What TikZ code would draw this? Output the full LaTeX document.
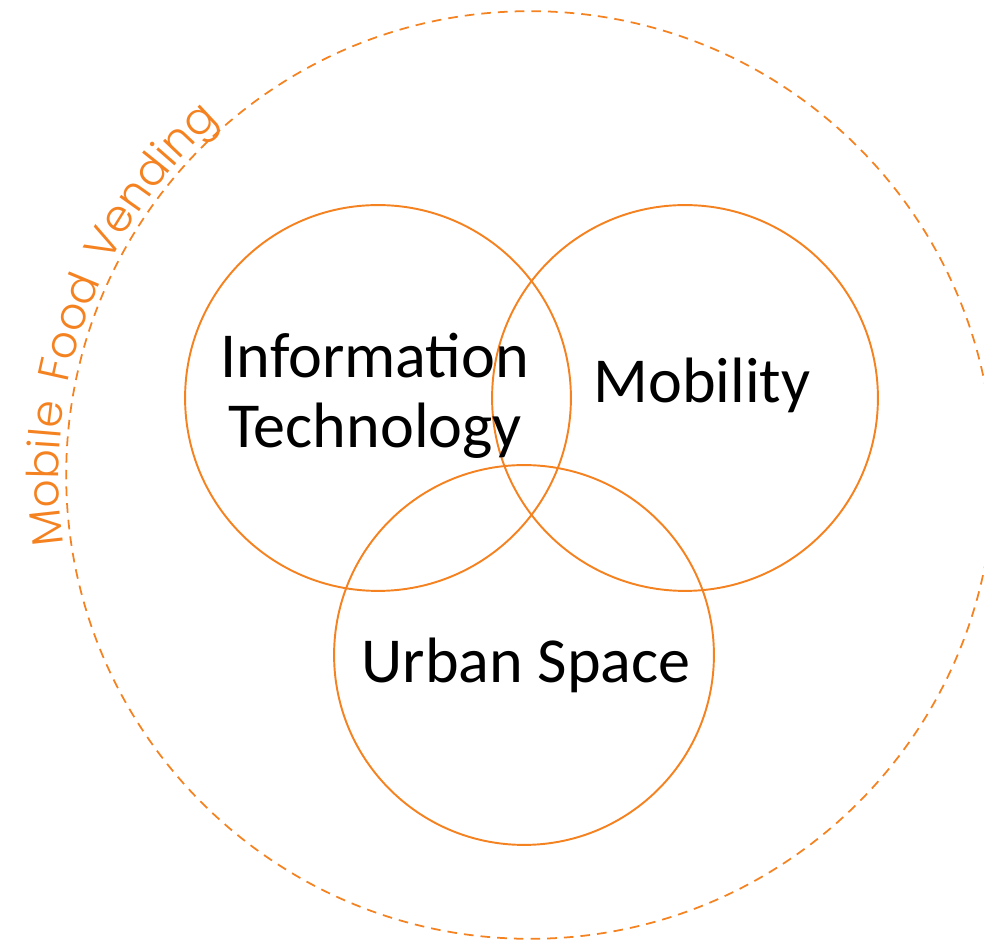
\documentclass[tikz,border=0pt]{standalone}
\usepackage{fontspec}
\setmainfont{Carlito}
\newfontfamily\vendfont{Poppins Light}
\usetikzlibrary{decorations.text}
\definecolor{vendorange}{RGB}{245,130,32}

\begin{document}
\begin{tikzpicture}[x=0.02cm,y=0.02cm,
        ring/.style={draw=vendorange,line width=1.1pt,circle,inner sep=0pt,minimum size=#1*0.04cm},
        areatext/.style={font=\fontsize{36.5}{40}\selectfont,align=center}]
        \useasboundingbox (0,0) rectangle (984,946);
        % outer dashed field
        \node[ring=464,line width=1pt,dash pattern=on 5.5pt off 4pt] (vending) at (530,471) {};
        \path[decorate,decoration={text along path,text align=left,
            text={|\vendfont\fontsize{25}{25}\selectfont\color{vendorange}|Mobile{\kern.45em}Food{\kern.45em}Vending}}]
            (530,471) ++(188.5:471) arc[start angle=188.5,end angle=100,radius=471];
        % the three areas
        \node[ring=193] (info) at (378,548) {};
        \node[ring=193] (mobil) at (685,548) {};
        \node[ring=190] (urban) at (524,291) {};
        \node[areatext] (infotext) at (375,550) {Information\\Technology};
        \node[areatext,anchor=base] (mobiltext) at (702,543) {Mobility};
        \node[areatext,anchor=base] (urbantext) at (526,263) {Urban Space};
    \end{tikzpicture}
\end{document}
